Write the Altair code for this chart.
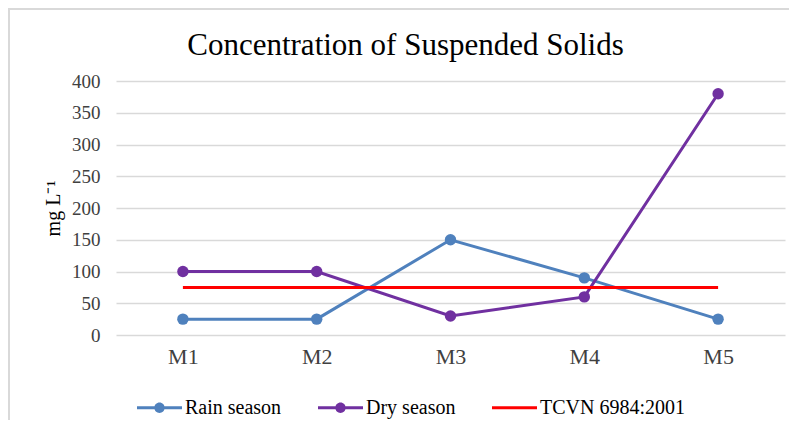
import altair as alt
import pandas as pd

sites = ["M1", "M2", "M3", "M4", "M5"]
rain = [25, 25, 150, 90, 25]
dry = [100, 100, 30, 60, 380]
tcvn = [75, 75, 75, 75, 75]
series_names = ["Rain season", "Dry season", "TCVN 6984:2001"]
series_colors = ["#4F81BD", "#7030A0", "#FF0000"]
y_ticks = [0, 50, 100, 150, 200, 250, 300, 350, 400]

rows = []
for s, vals in zip(series_names[:2], [rain, dry]):
    for site, v in zip(sites, vals):
        rows.append({"site": site, "value": v, "series": s})
df = pd.DataFrame(rows)
df_std = pd.DataFrame({"site": sites, "value": tcvn, "series": series_names[2]})
df_leg = pd.DataFrame({"entry": series_names})

FONT = "Liberation Serif"
color_scale = alt.Scale(domain=series_names, range=series_colors)

line_circle = ("M-1,-0.07L1,-0.07L1,0.07L-1,0.07Z "
               "M-0.23,0A0.23,0.23 0 1,1 0.23,0A0.23,0.23 0 1,1 -0.23,0Z")
line_only = "M-1,-0.07L1,-0.07L1,0.07L-1,0.07Z"

x_enc = alt.X("site:N", sort=sites, title=None,
              scale=alt.Scale(paddingInner=0, paddingOuter=0.5),
              axis=alt.Axis(labelAngle=0, labelFont=FONT, labelFontSize=22,
                            labelColor="#404040", labelPadding=11,
                            domain=False, ticks=False))
y_enc = alt.Y("value:Q", title="mg L⁻¹",
              scale=alt.Scale(domain=[0, 400], nice=False),
              axis=alt.Axis(values=y_ticks, labelFont=FONT,
                            labelFontSize=19, labelColor="#404040",
                            labelOverlap=False,
                            labelPadding=16, domain=False, ticks=False,
                            gridColor="#D9D9D9", gridWidth=1.3,
                            titleFont=FONT, titleFontSize=20,
                            titleFontWeight="normal", titleColor="#000000",
                            titlePadding=8))

lines = alt.Chart(df).mark_line(
    strokeWidth=3,
    point=alt.OverlayMarkDef(filled=True, size=130, opacity=1)
).encode(
    x=x_enc, y=y_enc,
    color=alt.Color("series:N", scale=color_scale, legend=None),
    order=alt.Order("site:N"),
)

std = alt.Chart(df_std).mark_line(strokeWidth=3).encode(
    x=x_enc, y=y_enc,
    color=alt.Color("series:N", scale=color_scale, legend=None),
)

leg_props = dict(title=None, orient="none", direction="horizontal",
                 legendX=21, legendY=304, labelFont=FONT, labelFontSize=20,
                 labelColor="#000000", labelOffset=3, symbolSize=2025,
                 symbolStrokeWidth=0, symbolOpacity=1, columnPadding=36,
                 padding=0, labelLimit=300)

legend_layer = alt.Chart(df_leg).mark_point(filled=True, size=0).encode(
    color=alt.Color("entry:N",
                    scale=alt.Scale(domain=series_names, range=series_colors),
                    legend=alt.Legend(**leg_props)),
    shape=alt.Shape("entry:N",
                    scale=alt.Scale(domain=series_names,
                                    range=[line_circle, line_circle, line_only]),
                    legend=alt.Legend(**leg_props)),
)

# light chart-area frame (left and top edges)
frame_left = alt.Chart().mark_rule(color="#D9D9D9", strokeWidth=2).encode(
    x=alt.value(-107), y=alt.value(-73), y2=alt.value(339))
frame_top = alt.Chart().mark_rule(color="#D9D9D9", strokeWidth=2).encode(
    x=alt.value(-108), x2=alt.value(673), y=alt.value(-72))

plot = alt.layer(lines, std)

chart = alt.layer(frame_left, frame_top, plot, legend_layer).resolve_scale(
    color="independent", shape="independent"
).properties(
    width=669, height=254,
    title=alt.TitleParams("Concentration of Suspended Solids", font=FONT,
                          fontSize=31, fontWeight="normal", color="#000000",
                          anchor="middle", dx=-45, offset=-55),
    autosize=alt.AutoSizeParams(type="none"),
    padding={"left": 108, "top": 73, "right": 4, "bottom": 85},
).configure_view(stroke=None)

chart.save("out.html", embed_options={"renderer": "svg", "actions": False})
